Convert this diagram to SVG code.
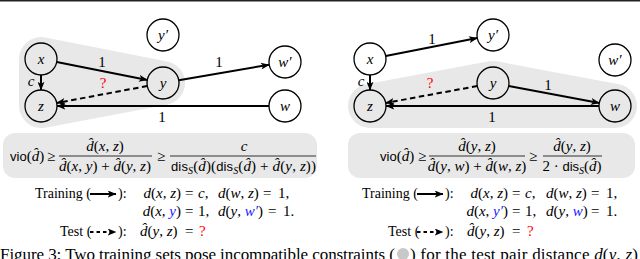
<svg xmlns="http://www.w3.org/2000/svg" width="640" height="259" viewBox="0 0 640 259">
<style>
.t{font-family:"Liberation Serif","Times New Roman",serif;font-size:14px;fill:#000}
.m{font-family:"Liberation Serif","Times New Roman",serif;font-size:15px;fill:#000}
.i{font-style:italic}
.sf{font-family:"Liberation Sans",Arial,sans-serif;font-size:13px}
.sub{font-size:10px;font-style:italic}
.node{fill:none;stroke:#000;stroke-width:1.3}
.lbl{font-family:"Liberation Serif","Times New Roman",serif;font-size:15px;font-style:italic;text-anchor:middle}
.el{font-family:"Liberation Serif","Times New Roman",serif;font-size:15px;text-anchor:middle}
.e{stroke:#000;stroke-width:2;fill:none;marker-end:url(#ah)}
.d{stroke-dasharray:5.5 3.5}
.hull{fill:#e8e8e8}
.box{fill:#e8e8e8}
.bar{stroke:#000;stroke-width:0.8}
.red{fill:#ff0000}
.blue{fill:#1a1aff}
.mid{text-anchor:middle}
.end{text-anchor:end}
</style>
<defs>
<marker id="ah" viewBox="0 0 10 8" refX="9.5" refY="4" markerWidth="9" markerHeight="7" markerUnits="userSpaceOnUse" orient="auto">
<path d="M0,0 L10,4 L0,8 L2.5,4 z" fill="#000"/>
</marker>
</defs>
<rect x="0" y="0" width="640" height="1.5" fill="#222"/>

<!-- hulls -->
<path class="hull" d="M45.25,37.42 L167.25,61.42 A22,22 0 0 1 167.07,104.63 L45.07,127.63 A22,22 0 0 1 19,106 L19,59 A22,22 0 0 1 45.25,37.42 Z"/>
<path class="hull" d="M365.95,84.37 L488.95,61.37 A22,22 0 0 1 497.07,61.37 L619.07,84.37 A22,22 0 0 1 615,128 L370,128 A22,22 0 0 1 365.95,84.37 Z"/>

<!-- connectors -->
<g id="connectors">
<line class="e" x1="56.7" y1="62.1" x2="147.3" y2="79.9"/>
<line class="e" x1="178.8" y1="80.3" x2="269.2" y2="64.7"/>
<line class="e" x1="269" y1="106" x2="57" y2="106"/>
<line class="e" x1="41" y1="75" x2="41" y2="90"/>
<line class="e d" x1="147.3" y1="86" x2="56.7" y2="103"/>
<text class="el" x="102" y="67">1</text>
<text class="el" x="219" y="67">1</text>
<text class="el" x="162" y="122">1</text>
<text class="el i" x="31" y="86">c</text>
<text class="el red" x="103" y="88">?</text>

<line class="e" x1="385.7" y1="55.9" x2="477.3" y2="38.1"/>
<line class="e" x1="508.7" y1="86" x2="599.3" y2="103"/>
<line class="e" x1="599" y1="106" x2="386" y2="106"/>
<line class="e" x1="370" y1="75" x2="370" y2="90"/>
<line class="e d" x1="477.3" y1="86" x2="385.7" y2="103"/>
<text class="el" x="432" y="44">1</text>
<text class="el" x="548" y="90">1</text>
<text class="el" x="492" y="122">1</text>
<text class="el i" x="361" y="86">c</text>
<text class="el red" x="430" y="88">?</text>
</g>

<!-- nodes left -->
<g id="L-x"><circle class="node" cx="41" cy="59" r="16"/><text class="lbl" x="41" y="64">x</text></g>
<g id="L-z"><circle class="node" cx="41" cy="106" r="16"/><text class="lbl" x="41" y="111">z</text></g>
<g id="L-y"><circle class="node" cx="163" cy="83" r="16"/><text class="lbl" x="163" y="88">y</text></g>
<g id="L-yp"><circle class="node" cx="163" cy="35" r="16"/><text class="lbl" x="163" y="40">y′</text></g>
<g id="L-wp"><circle class="node" cx="285" cy="62" r="16"/><text class="lbl" x="285" y="67">w′</text></g>
<g id="L-w"><circle class="node" cx="285" cy="106" r="16"/><text class="lbl" x="285" y="111">w</text></g>
<!-- nodes right -->
<g id="R-x"><circle class="node" cx="370" cy="59" r="16"/><text class="lbl" x="370" y="64">x</text></g>
<g id="R-z"><circle class="node" cx="370" cy="106" r="16"/><text class="lbl" x="370" y="111">z</text></g>
<g id="R-y"><circle class="node" cx="493" cy="83" r="16"/><text class="lbl" x="493" y="88">y</text></g>
<g id="R-yp"><circle class="node" cx="493" cy="35" r="16"/><text class="lbl" x="493" y="40">y′</text></g>
<g id="R-wp"><circle class="node" cx="615" cy="60" r="16"/><text class="lbl" x="615" y="65">w′</text></g>
<g id="R-w"><circle class="node" cx="615" cy="106" r="16"/><text class="lbl" x="615" y="111">w</text></g>

<!-- formula boxes -->
<rect class="box" x="3" y="133" width="314" height="45" rx="12"/>
<rect class="box" x="348" y="133" width="287" height="45" rx="12"/>

<!-- left formula -->
<text class="m" x="10" y="161"><tspan class="sf">vio</tspan>(<tspan class="i">d&#x302;</tspan>)</text>
<text class="m" x="47" y="161">≥</text>
<line class="bar" x1="59" y1="156" x2="152" y2="156"/>
<text class="m mid" x="105" y="151"><tspan class="i">d&#x302;</tspan>(<tspan class="i">x</tspan>, <tspan class="i">z</tspan>)</text>
<text class="m mid" x="105" y="171"><tspan class="i">d&#x302;</tspan>(<tspan class="i">x</tspan>, <tspan class="i">y</tspan>) + <tspan class="i">d&#x302;</tspan>(<tspan class="i">y</tspan>, <tspan class="i">z</tspan>)</text>
<text class="m" x="157" y="161">≥</text>
<line class="bar" x1="170" y1="156" x2="316" y2="156"/>
<text class="m mid i" x="244" y="151">c</text>
<text class="m" x="171" y="171" textLength="145" lengthAdjust="spacing"><tspan class="sf">dis</tspan><tspan class="sub" dy="3">S</tspan><tspan dy="-3">(</tspan><tspan class="i">d&#x302;</tspan>)(<tspan class="sf">dis</tspan><tspan class="sub" dy="3">S</tspan><tspan dy="-3">(</tspan><tspan class="i">d&#x302;</tspan>) + <tspan class="i">d&#x302;</tspan>(<tspan class="i">y</tspan>, <tspan class="i">z</tspan>))</text>

<!-- right formula -->
<text class="m" x="380" y="161"><tspan class="sf">vio</tspan>(<tspan class="i">d&#x302;</tspan>)</text>
<text class="m" x="418" y="161">≥</text>
<line class="bar" x1="429" y1="156" x2="525" y2="156"/>
<text class="m mid" x="477" y="151"><tspan class="i">d&#x302;</tspan>(<tspan class="i">y</tspan>, <tspan class="i">z</tspan>)</text>
<text class="m mid" x="477" y="171"><tspan class="i">d&#x302;</tspan>(<tspan class="i">y</tspan>, <tspan class="i">w</tspan>) + <tspan class="i">d&#x302;</tspan>(<tspan class="i">w</tspan>, <tspan class="i">z</tspan>)</text>
<text class="m" x="529" y="161">≥</text>
<line class="bar" x1="543" y1="156" x2="602" y2="156"/>
<text class="m mid" x="572" y="151"><tspan class="i">d&#x302;</tspan>(<tspan class="i">y</tspan>, <tspan class="i">z</tspan>)</text>
<text class="m mid" x="572" y="171">2 · <tspan class="sf">dis</tspan><tspan class="sub" dy="3">S</tspan><tspan dy="-3">(</tspan><tspan class="i">d&#x302;</tspan>)</text>

<!-- left legend -->
<text class="t" x="35" y="198">Training (</text>
<line class="e" x1="90" y1="194" x2="116" y2="194" stroke-width="1.6"/>
<text class="t" x="118" y="198">):</text>
<text class="m end" x="181" y="198"><tspan class="i">d</tspan>(<tspan class="i">x</tspan>, <tspan class="i">z</tspan>)</text>
<text class="m" x="185" y="198">=</text>
<text class="m" x="198" y="198"><tspan class="i">c</tspan>,</text>
<text class="m" x="218" y="198"><tspan class="i">d</tspan>(<tspan class="i">w</tspan>, <tspan class="i">z</tspan>)</text>
<text class="m" x="263" y="198">=</text>
<text class="m" x="278" y="198">1,</text>
<text class="m end" x="181" y="216"><tspan class="i">d</tspan>(<tspan class="i">x</tspan>, <tspan class="i blue">y</tspan>)</text>
<text class="m" x="185" y="216">=</text>
<text class="m" x="198" y="216">1,</text>
<text class="m" x="218" y="216"><tspan class="i">d</tspan>(<tspan class="i">y</tspan>, <tspan class="i blue">w′</tspan>)</text>
<text class="m" x="268" y="216">=</text>
<text class="m" x="283" y="216">1.</text>
<text class="t" x="60" y="236">Test (</text>
<line class="e d" x1="90" y1="232" x2="116" y2="232" stroke-width="1.6" style="stroke-dasharray:3.5 3"/>
<text class="t" x="118" y="236">):</text>
<text class="m" x="140" y="236"><tspan class="i">d&#x302;</tspan>(<tspan class="i">y</tspan>, <tspan class="i">z</tspan>)</text>
<text class="m" x="185" y="236">=</text>
<text class="m red" x="199" y="236">?</text>

<!-- right legend -->
<text class="t" x="362" y="198">Training (</text>
<line class="e" x1="417" y1="194" x2="443" y2="194" stroke-width="1.6"/>
<text class="t" x="445" y="198">):</text>
<text class="m end" x="508" y="198"><tspan class="i">d</tspan>(<tspan class="i">x</tspan>, <tspan class="i">z</tspan>)</text>
<text class="m" x="512" y="198">=</text>
<text class="m" x="525" y="198"><tspan class="i">c</tspan>,</text>
<text class="m" x="546" y="198"><tspan class="i">d</tspan>(<tspan class="i">w</tspan>, <tspan class="i">z</tspan>)</text>
<text class="m" x="591" y="198">=</text>
<text class="m" x="606" y="198">1,</text>
<text class="m end" x="508" y="216"><tspan class="i">d</tspan>(<tspan class="i">x</tspan>, <tspan class="i blue">y′</tspan>)</text>
<text class="m" x="512" y="216">=</text>
<text class="m" x="525" y="216">1,</text>
<text class="m" x="546" y="216"><tspan class="i">d</tspan>(<tspan class="i">y</tspan>, <tspan class="i blue">w</tspan>)</text>
<text class="m" x="591" y="216">=</text>
<text class="m" x="606" y="216">1.</text>
<text class="t" x="388" y="236">Test (</text>
<line class="e d" x1="417" y1="232" x2="443" y2="232" stroke-width="1.6" style="stroke-dasharray:3.5 3"/>
<text class="t" x="445" y="236">):</text>
<text class="m" x="467" y="236"><tspan class="i">d&#x302;</tspan>(<tspan class="i">y</tspan>, <tspan class="i">z</tspan>)</text>
<text class="m" x="512" y="236">=</text>
<text class="m red" x="527" y="236">?</text>

<!-- caption -->
<text class="t" x="0" y="260" style="font-size:17px" textLength="395" lengthAdjust="spacing">Figure 3: Two training sets pose incompatible constraints (</text>
<circle cx="403" cy="254" r="6" fill="#c8c8c8"/>
<text class="t" x="410" y="260" style="font-size:17px" textLength="228" lengthAdjust="spacing">) for the test pair distance <tspan class="i">d</tspan>(<tspan class="i">y</tspan>, <tspan class="i">z</tspan>)</text>
</svg>
